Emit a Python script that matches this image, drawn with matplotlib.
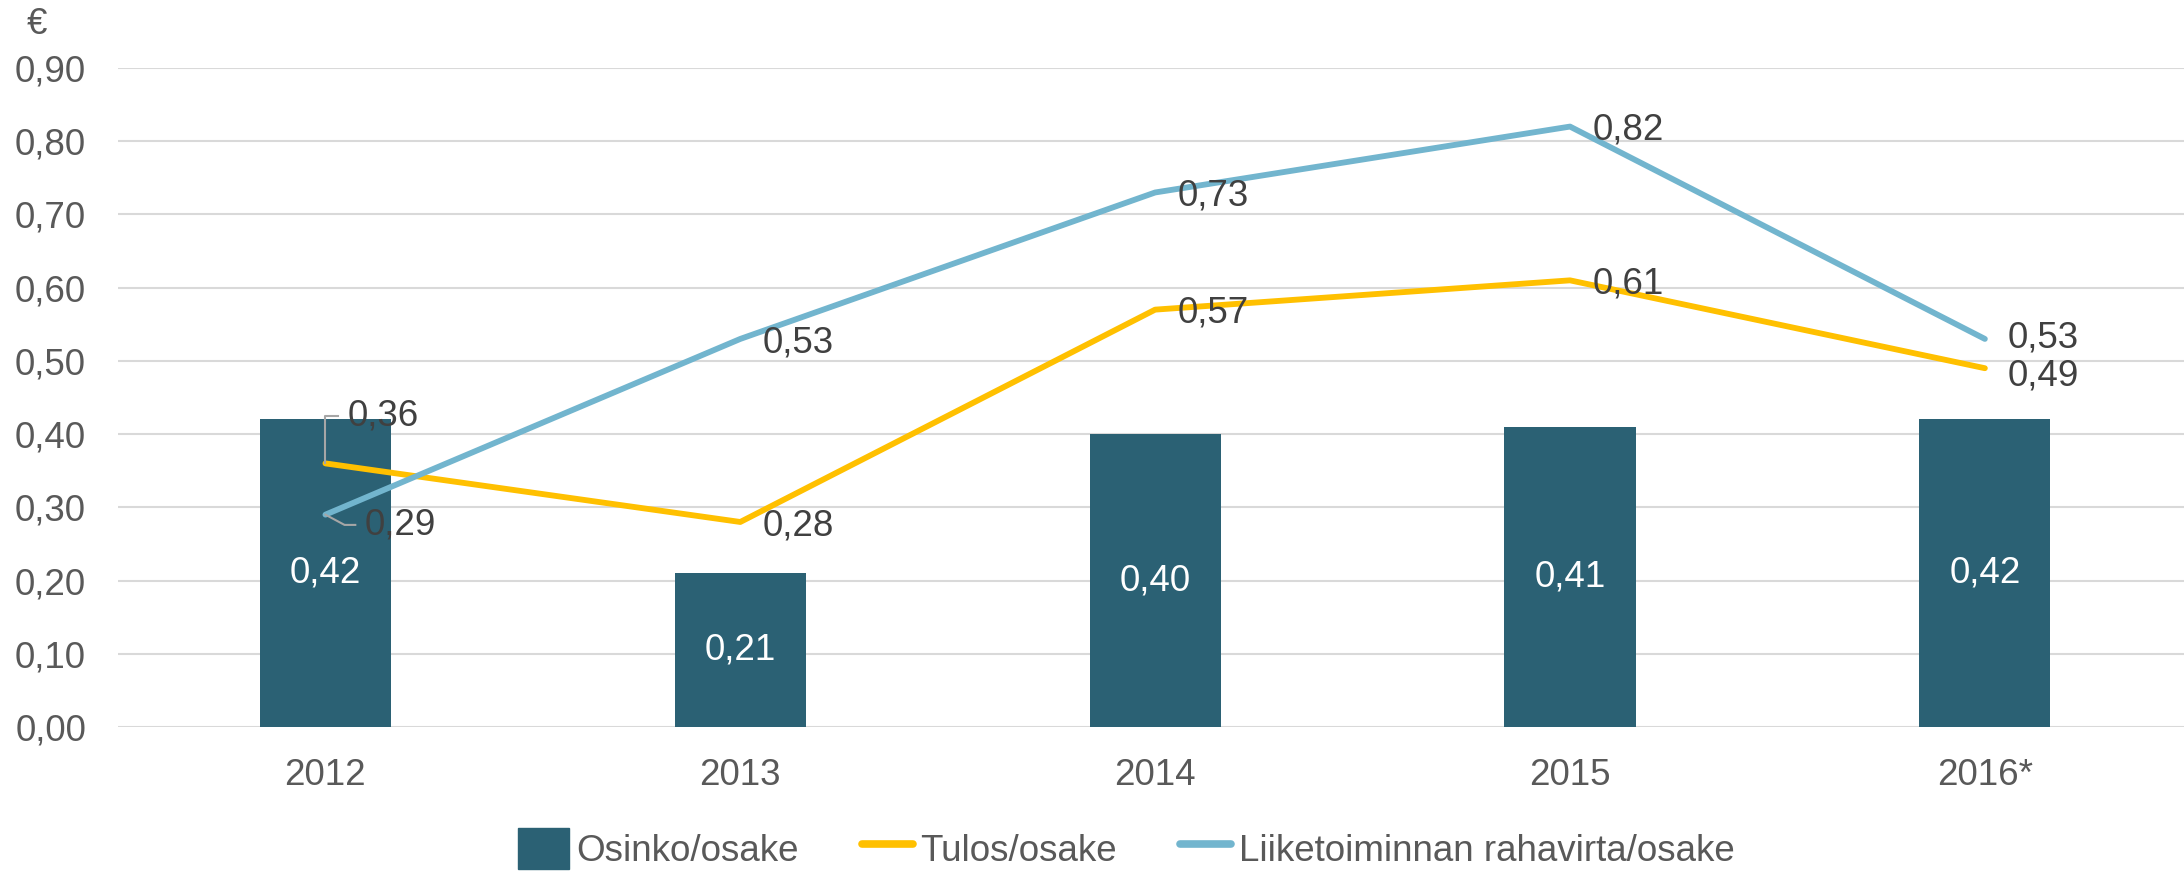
import numpy as np
import matplotlib.pyplot as plt
from matplotlib.lines import Line2D
from matplotlib.patches import Patch

plt.rcParams['font.family'] = ['Liberation Sans', 'DejaVu Sans']

years = ['2012', '2013', '2014', '2015', '2016*']
osinko = [0.42, 0.21, 0.40, 0.41, 0.42]
tulos = [0.36, 0.28, 0.57, 0.61, 0.49]
rahavirta = [0.29, 0.53, 0.73, 0.82, 0.53]

bar_col = '#2B6174'
tulos_col = '#FFC000'
raha_col = '#72B5CE'
txt_col = '#404040'
tick_col = '#595959'
fs = 26.5

def fmt(v):
    return ('%.2f' % v).replace('.', ',')

fig = plt.figure(figsize=(21.84, 8.72), dpi=100)
ax = fig.add_axes([118 / 2184, 1 - 727 / 872, 1 - 118 / 2184, (727 - 68) / 872])
x = np.arange(len(years))

ax.bar(x, osinko, width=0.316, color=bar_col, zorder=2)
ax.plot(x, tulos, color=tulos_col, lw=4.2, solid_capstyle='round', zorder=3)
ax.plot(x, rahavirta, color=raha_col, lw=4.2, solid_capstyle='round', zorder=3)

for i, v in enumerate(osinko):
    ax.text(i, v / 2, fmt(v), ha='center', va='center', color='white', fontsize=fs, zorder=4)

# line labels, right of point (last pair nudged apart a little)
for i in range(1, len(years)):
    dt, dr = -0.005, -0.005
    if i == len(years) - 1:
        dt, dr = -0.011, 0.001
    ax.text(i + 0.055, tulos[i] + dt, fmt(tulos[i]), ha='left', va='center', color=txt_col, fontsize=fs, zorder=4)
    ax.text(i + 0.055, rahavirta[i] + dr, fmt(rahavirta[i]), ha='left', va='center', color=txt_col, fontsize=fs, zorder=4)

# 2012 labels with leader lines
ax.plot([0, 0, 0.031], [tulos[0], 0.425, 0.425], color='#A6A6A6', lw=1.5, zorder=4)
ax.text(0.053, 0.425, fmt(tulos[0]), ha='left', va='center', color=txt_col, fontsize=fs, zorder=4)
ax.plot([0, 0.046, 0.072], [rahavirta[0], 0.276, 0.276], color='#A6A6A6', lw=1.5, zorder=4)
ax.text(0.094, 0.276, fmt(rahavirta[0]), ha='left', va='center', color=txt_col, fontsize=fs, zorder=4)

ax.set_xlim(-0.5, 4.48)
ax.set_ylim(0, 0.9)
yt = np.arange(0, 0.91, 0.1)
ax.set_yticks(yt)
ax.set_yticklabels([fmt(v) for v in yt])
ax.set_xticks(x)
ax.set_xticklabels(years)
ax.tick_params(axis='y', length=0, pad=23, labelsize=fs, labelcolor=tick_col)
ax.tick_params(axis='x', length=0, pad=22, labelsize=fs, labelcolor=tick_col)
ax.grid(axis='y', color='#D9D9D9', lw=1.5, zorder=0)
ax.set_axisbelow(True)
for s in ax.spines.values():
    s.set_visible(False)

fig.text(37 / 2184, 1 - 24 / 872, '€', ha='center', va='center', fontsize=fs, color=tick_col)

handles = [Patch(color=bar_col),
           Line2D([], [], color=tulos_col, lw=5.5, solid_capstyle='round'),
           Line2D([], [], color=raha_col, lw=5.5, solid_capstyle='round')]
labels = ['Osinko/osake', 'Tulos/osake', 'Liiketoiminnan rahavirta/osake']
leg = fig.legend(handles, labels, loc='center', bbox_to_anchor=(0.5156, 0.027), ncol=3,
                 frameon=False, fontsize=fs, handlelength=1.4, handleheight=1.35,
                 handletextpad=0.2, columnspacing=1.7)
for t in leg.get_texts():
    t.set_color(tick_col)

fig.savefig('out.png', dpi=100)
